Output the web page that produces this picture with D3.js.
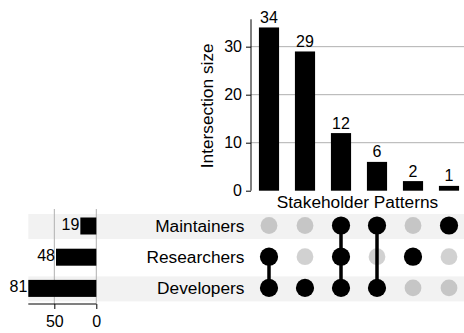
<!DOCTYPE html>
<html>
<head>
<meta charset="utf-8">
<script src="https://cdn.jsdelivr.net/npm/d3@7"></script>
<style>
  html, body { margin: 0; padding: 0; background: #fff; }
  svg { display: block; font-family: "Liberation Sans", Arial, Helvetica, sans-serif; }
</style>
</head>
<body>
<svg id="chart" width="464" height="333"></svg>
<script>
// Stakeholder groups (matrix rows, top to bottom)
const setNames = ["Maintainers", "Researchers", "Developers"];
const setTotals = [19, 48, 81];

// Intersection patterns (matrix columns, left to right)
const intersectionSizes = [34, 29, 12, 6, 2, 1];
const intersectionMembers = [
  ["Researchers", "Developers"],
  ["Developers"],
  ["Maintainers", "Researchers", "Developers"],
  ["Maintainers", "Developers"],
  ["Researchers"],
  ["Maintainers"]
];

const sizeTicks = [0, 10, 20, 30];
const totalTicks = [50, 0];

const svg = d3.select("#chart");
const W = 464;
const numFont = 16;
const labelFont = 17.3;

// ---- scales ----
const colX = d3.scaleBand().domain(d3.range(intersectionSizes.length)).range([251, 467]);
const colC = i => colX(i) + colX.bandwidth() / 2;
const barW = colX.bandwidth() * 0.56;

const sizeY = d3.scaleLinear().domain([0, d3.max(intersectionSizes) * 1.05]).range([190.7, 19.3]);

const rowY = d3.scalePoint().domain(setNames).range([225.5, 287.9]);

const totX = d3.scaleLinear().domain([0, d3.max(setTotals)]).range([96.3, 28.3]);

// ---- row shading ----
svg.append("g").selectAll("rect")
  .data(setNames.filter((d, i) => i % 2 === 0))
  .join("rect")
  .attr("x", totX(d3.max(setTotals)))
  .attr("y", d => rowY(d) - 11.5)
  .attr("width", W - totX(d3.max(setTotals)))
  .attr("height", 25)
  .attr("fill", "#f2f2f2");

// ---- intersection size bars ----
const sizePanel = svg.append("g");
sizePanel.selectAll("line.grid")
  .data(sizeTicks.filter(t => t > 0))
  .join("line")
  .attr("x1", 251).attr("x2", W)
  .attr("y1", d => sizeY(d)).attr("y2", d => sizeY(d))
  .attr("stroke", "#b0b0b0").attr("stroke-width", 1);

sizePanel.selectAll("rect.bar")
  .data(intersectionSizes)
  .join("rect")
  .attr("x", (d, i) => colC(i) - barW / 2)
  .attr("y", d => sizeY(d))
  .attr("width", barW)
  .attr("height", d => sizeY(0) - sizeY(d))
  .attr("fill", "#000");

sizePanel.selectAll("text.val")
  .data(intersectionSizes)
  .join("text")
  .attr("x", (d, i) => colC(i))
  .attr("y", d => sizeY(d) - 4.5)
  .attr("text-anchor", "middle")
  .attr("font-size", numFont)
  .attr("fill", "#000")
  .text(d => d);

const yAxis = d3.axisLeft(sizeY).tickValues(sizeTicks).tickSize(5).tickPadding(4);
const yAxisG = sizePanel.append("g").attr("transform", "translate(251,0)").call(yAxis);
yAxisG.attr("font-size", numFont).attr("font-family", null);
yAxisG.select(".domain").attr("stroke", "#000").attr("d", `M0,${sizeY.range()[1]}V${sizeY.range()[0]}`);
yAxisG.selectAll(".tick line").attr("stroke", "#000");
yAxisG.selectAll(".tick text").attr("fill", "#000");

sizePanel.append("text")
  .attr("transform", "translate(213,105.8) rotate(-90)")
  .attr("text-anchor", "middle")
  .attr("font-size", labelFont)
  .attr("fill", "#000")
  .text("Intersection size");

sizePanel.append("text")
  .attr("x", 357.5).attr("y", 207.5)
  .attr("text-anchor", "middle")
  .attr("font-size", labelFont)
  .attr("fill", "#000")
  .text("Stakeholder Patterns");

// ---- set totals ----
const totPanel = svg.append("g");
totPanel.selectAll("line.vgrid")
  .data(totalTicks)
  .join("line")
  .attr("x1", d => totX(d)).attr("x2", d => totX(d))
  .attr("y1", 209).attr("y2", 304)
  .attr("stroke", "#b0b0b0").attr("stroke-width", 1);

totPanel.selectAll("rect.tbar")
  .data(setTotals)
  .join("rect")
  .attr("x", d => totX(d))
  .attr("y", (d, i) => rowY(setNames[i]) - 8)
  .attr("width", d => totX(0) - totX(d))
  .attr("height", 17)
  .attr("fill", "#000");

totPanel.selectAll("text.tval")
  .data(setTotals)
  .join("text")
  .attr("x", d => totX(d) - 1)
  .attr("y", (d, i) => rowY(setNames[i]) + 4.5)
  .attr("text-anchor", "end")
  .attr("font-size", numFont)
  .attr("fill", "#000")
  .text(d => d);

const xAxis = d3.axisBottom(totX).tickValues(totalTicks).tickSize(5).tickPadding(7);
const xAxisG = totPanel.append("g").attr("transform", "translate(0,304)").call(xAxis);
xAxisG.attr("font-size", numFont).attr("font-family", null);
xAxisG.select(".domain").attr("stroke", "#000").attr("d", `M${totX.range()[1]},0H${totX.range()[0]}`);
xAxisG.selectAll(".tick line").attr("stroke", "#000");
xAxisG.selectAll(".tick text").attr("fill", "#000");

// ---- set labels ----
svg.append("g").selectAll("text")
  .data(setNames)
  .join("text")
  .attr("x", 244.5)
  .attr("y", d => rowY(d) + 6)
  .attr("text-anchor", "end")
  .attr("font-size", labelFont)
  .attr("fill", "#000")
  .text(d => d);

// ---- membership matrix ----
const mat = svg.append("g");
intersectionMembers.forEach((members, i) => {
  const ys = members.map(m => rowY(m));
  if (ys.length > 1) {
    mat.append("line")
      .attr("x1", colC(i)).attr("x2", colC(i))
      .attr("y1", d3.min(ys)).attr("y2", d3.max(ys))
      .attr("stroke", "#000").attr("stroke-width", 3.5);
  }
  setNames.forEach(s => {
    const on = members.includes(s);
    mat.append("circle")
      .attr("cx", colC(i))
      .attr("cy", rowY(s))
      .attr("r", on ? 9.1 : 8.4)
      .attr("fill", on ? "#000" : "rgba(0,0,0,0.18)");
  });
});
</script>
</body>
</html>
